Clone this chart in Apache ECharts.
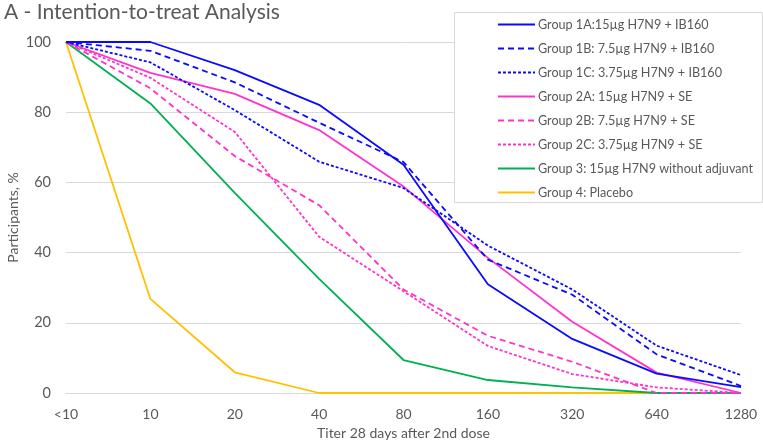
<!DOCTYPE html>
<html>
<head>
<meta charset="utf-8">
<script src="https://cdn.jsdelivr.net/npm/echarts@6/dist/echarts.min.js"></script>
<style>html,body{margin:0;padding:0;background:#fff}#c{width:763px;height:446px}</style>
</head>
<body>
<div id="c"></div>
<script>
const categories = ['<10','10','20','40','80','160','320','640','1280'];
const yTicks = [0,20,40,60,80,100];
const seriesNames = [
  'Group 1A:15µg H7N9 + IB160',
  'Group 1B: 7.5µg H7N9 + IB160',
  'Group 1C: 3.75µg H7N9 + IB160',
  'Group 2A: 15µg H7N9 + SE',
  'Group 2B: 7.5µg H7N9 + SE',
  'Group 2C: 3.75µg H7N9 + SE',
  'Group 3: 15µg H7N9 without adjuvant',
  'Group 4: Placebo'
];
const g1A = [100, 100, 92.0, 82.1, 65.0, 31.0, 15.4, 5.5, 1.7];
const g1B = [100, 97.5, 88.5, 77.0, 65.8, 38.0, 28.0, 11.0, 2.0];
const g1C = [100, 94.2, 80.6, 65.9, 58.4, 42.0, 29.5, 13.5, 5.1];
const g2A = [100, 91.2, 85.2, 74.9, 58.8, 38.5, 20.3, 5.8, 0];
const g2B = [100, 86.8, 67.5, 53.5, 29.5, 16.3, 8.9, 0, 0];
const g2C = [100, 89.8, 74.4, 44.5, 29.0, 13.4, 5.4, 1.6, 0];
const g3  = [100, 82.5, 57.0, 32.5, 9.4, 3.7, 1.6, 0, 0];
const g4  = [100, 26.8, 5.9, 0, 0, 0, 0, 0, 0];

const blue = '#0a0aff', pink = '#ff33cc', green = '#00b050', yellow = '#ffc000';
const FONT = 'Lato';
const styles = [
  {c: blue, t: 'solid'}, {c: blue, t: [6,4]}, {c: blue, t: [3,2]},
  {c: pink, t: 'solid'}, {c: pink, t: [6,4]}, {c: pink, t: [3,2]},
  {c: green, t: 'solid'}, {c: yellow, t: 'solid'}
];
const data = [g1A, g1B, g1C, g2A, g2B, g2C, g3, g4];

const chart = echarts.init(document.getElementById('c'));
chart.setOption({
  animation: false,
  textStyle: {fontFamily: FONT},
  title: {
    text: 'A - Intention-to-treat Analysis',
    left: -1, top: -3,
    textStyle: {fontFamily: FONT, fontSize: 21, fontWeight: 'normal', color: '#595959'}
  },
  grid: {left: 66, right: 22, top: 42, bottom: 53, containLabel: false, outerBoundsMode: 'none'},
  graphic: [{
    type: 'rect', z: 50, silent: true,
    shape: {x: 454.5, y: 12.5, width: 308, height: 190},
    style: {fill: '#fff', stroke: '#d9d9d9', lineWidth: 1}
  }],
  legend: {
    z: 60,
    orient: 'vertical',
    left: 454, top: 14,
    padding: [4, 10, 4, 43],
    itemWidth: 37, itemHeight: 14, itemGap: 11,
    itemStyle: {opacity: 0},
    textStyle: {fontFamily: FONT, fontSize: 12.6, color: '#595959', padding: [0,0,0,-2]},
    data: seriesNames
  },
  xAxis: {
    type: 'category', boundaryGap: false, data: categories,
    name: 'Titer 28 days after 2nd dose', nameLocation: 'middle', nameGap: 33,
    nameTextStyle: {fontFamily: FONT, fontSize: 14, color: '#595959'},
    axisLine: {lineStyle: {color: '#d9d9d9'}},
    axisTick: {show: false},
    axisLabel: {fontFamily: FONT, fontSize: 14, color: '#595959', margin: 14}
  },
  yAxis: {
    type: 'value', min: 0, max: 100, interval: 20,
    name: 'Participants, %', nameLocation: 'middle', nameGap: 46, nameMoveOverlap: false,
    nameTextStyle: {fontFamily: FONT, fontSize: 14, color: '#595959'},
    axisLine: {show: false}, axisTick: {show: false},
    axisLabel: {fontFamily: FONT, fontSize: 14.5, color: '#595959', margin: 15,
      formatter: v => yTicks.includes(v) ? String(v) : ''},
    splitLine: {lineStyle: {color: '#d9d9d9', width: 1}}
  },
  series: seriesNames.map((n, i) => ({
    name: n, type: 'line', data: data[i], symbol: 'none',
    lineStyle: {color: styles[i].c, type: styles[i].t, width: 1.8},
    itemStyle: {color: styles[i].c},
    z: 10 - i
  }))
});
</script>
</body>
</html>
